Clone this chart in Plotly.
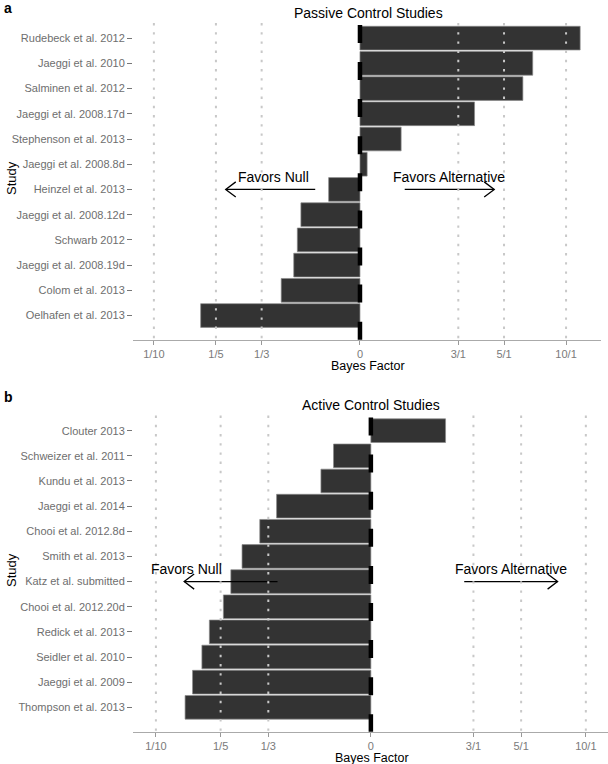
import numpy as np
import plotly.graph_objects as go

# ---- data (natural log of Bayes factor) ----
passive_studies = ["Rudebeck et al. 2012", "Jaeggi et al. 2010", "Salminen et al. 2012",
                   "Jaeggi et al. 2008.17d", "Stephenson et al. 2013", "Jaeggi et al. 2008.8d",
                   "Heinzel et al. 2013", "Jaeggi et al. 2008.12d", "Schwarb 2012",
                   "Jaeggi et al. 2008.19d", "Colom et al. 2013", "Oelhafen et al. 2013"]
passive_logbf = [2.46, 1.93, 1.82, 1.28, 0.46, 0.08, -0.35, -0.66, -0.70, -0.74, -0.88, -1.78]

active_studies = ["Clouter 2013", "Schweizer et al. 2011", "Kundu et al. 2013",
                  "Jaeggi et al. 2014", "Chooi et al. 2012.8d", "Smith et al. 2013",
                  "Katz et al. submitted", "Chooi et al. 2012.20d", "Redick et al. 2013",
                  "Seidler et al. 2010", "Jaeggi et al. 2009", "Thompson et al. 2013"]
active_logbf = [0.80, -0.40, -0.535, -1.01, -1.19, -1.38, -1.50, -1.58, -1.73, -1.81, -1.91, -1.99]

bf_tick_values = [1/10, 1/5, 1/3, 1, 3, 5, 10]
bf_tick_labels = ["1/10", "1/5", "1/3", "0", "3/1", "5/1", "10/1"]
tick_logs = list(np.log(bf_tick_values))

W, H = 608, 764
FONT = "Liberation Sans, Arial, Helvetica, sans-serif"
def px(x): return x / W
def py(y): return 1 - y / H

fig = go.Figure()

panels = [
    dict(studies=passive_studies, vals=passive_logbf, xa="x", ya="y",
         xdom=[px(133), px(601)], xrange=[-2.536, 2.693], ydom=[py(340), py(23)],
         title="Passive Control Studies", title_xy=(368, 13), letter="a", letter_y=8,
         xt_xy=(368, 366), study_y=178,
         null_txt=-0.97, null_arr=(-0.5, -1.5), alt_txt=1.0, alt_arr=(0.5, 1.5),
         arrow_row=6, dxh=0.112),
    dict(studies=active_studies, vals=active_logbf, xa="x2", ya="y2",
         xdom=[px(133), 1.0], xrange=[-2.548, 2.54], ydom=[py(731.7), py(415.6)],
         title="Active Control Studies", title_xy=(371, 405), letter="b", letter_y=397,
         xt_xy=(372, 757.5), study_y=570,
         null_txt=-1.97, null_arr=(-1.0, -2.0), alt_txt=1.5, alt_arr=(1.0, 2.0),
         arrow_row=6, dxh=0.107),
]

shapes = []
annotations = []
for k, p in enumerate(panels):
    n = len(p["studies"])
    idx = list(range(n))
    fig.add_trace(go.Bar(
        x=p["vals"], y=idx, orientation="h", width=0.94,
        marker=dict(color="#333333", line=dict(color="#8a8a8a", width=0.7)),
        xaxis=p["xa"], yaxis=p["ya"], showlegend=False, hoverinfo="skip"))

    # dotted reference lines above the bars
    for t in tick_logs:
        if abs(t) < 1e-9:
            continue
        shapes.append(dict(type="line", xref=p["xa"], yref=f"{p['ya']} domain",
                           x0=t, x1=t, y0=1, y1=0, layer="above",
                           line=dict(color="#c8c8c8", width=2.0, dash="2.4px,6.8px")))
    # dashed thick line at BF = 1
    shapes.append(dict(type="line", xref=p["xa"], yref=f"{p['ya']} domain",
                       x0=0, x1=0, y0=0.994, y1=0, layer="above",
                       line=dict(color="black", width=4.5, dash="18px,19.1px")))

    # arrows
    r = p["arrow_row"]
    dy = 0.3
    for (a0, a1) in (p["null_arr"], p["alt_arr"]):
        sgn = 1 if a1 > a0 else -1
        hx = a1 - sgn * p["dxh"]
        fig.add_trace(go.Scatter(
            x=[a0, a1, None, hx, a1, hx], y=[r, r, None, r - dy, r, r + dy],
            mode="lines", line=dict(color="black", width=1.3),
            xaxis=p["xa"], yaxis=p["ya"], showlegend=False, hoverinfo="skip"))
    for txt, xv in (("Favors Null", p["null_txt"]), ("Favors Alternative", p["alt_txt"])):
        annotations.append(dict(text=txt, x=xv, y=r - 0.5, xref=p["xa"], yref=p["ya"],
                                showarrow=False, xanchor="center", yanchor="middle",
                                font=dict(family=FONT, size=14, color="black")))

    # titles & labels
    annotations.append(dict(text=p["title"], x=px(p["title_xy"][0]), y=py(p["title_xy"][1]),
                            xref="paper", yref="paper", showarrow=False,
                            xanchor="center", yanchor="middle",
                            font=dict(family=FONT, size=14, color="black")))
    annotations.append(dict(text=f"<b>{p['letter']}</b>", x=px(2), y=py(p["letter_y"]),
                            xref="paper", yref="paper", showarrow=False,
                            xanchor="left", yanchor="middle",
                            font=dict(family=FONT, size=14, color="black")))
    annotations.append(dict(text="Bayes Factor", x=px(p["xt_xy"][0]), y=py(p["xt_xy"][1]),
                            xref="paper", yref="paper", showarrow=False,
                            xanchor="center", yanchor="middle",
                            font=dict(family=FONT, size=12.5, color="black")))
    annotations.append(dict(text="Study", x=px(11), y=py(p["study_y"]),
                            xref="paper", yref="paper", showarrow=False, textangle=-90,
                            xanchor="center", yanchor="middle",
                            font=dict(family=FONT, size=13, color="black")))

    xkey = "xaxis" if k == 0 else "xaxis2"
    ykey = "yaxis" if k == 0 else "yaxis2"
    fig.update_layout(**{
        xkey: dict(domain=p["xdom"], range=p["xrange"], anchor=p["ya"],
                   tickvals=tick_logs, ticktext=bf_tick_labels,
                   showgrid=False, zeroline=False, showline=True,
                   linecolor="#aaaaaa", linewidth=1.2,
                   ticks="outside", ticklen=4, tickcolor="#999999", tickwidth=1,
                   tickfont=dict(family=FONT, size=11, color="#7a7a7a")),
        ykey: dict(domain=p["ydom"], range=[11.97, -0.6], anchor=p["xa"],
                   tickvals=idx, ticktext=p["studies"],
                   showgrid=False, zeroline=False, showline=False,
                   ticks="outside", ticklen=5, tickcolor="#777777", tickwidth=1,
                   tickfont=dict(family=FONT, size=11, color="#6e6e6e")),
    })

fig.update_layout(
    width=W, height=H,
    margin=dict(l=0, r=0, t=0, b=0),
    paper_bgcolor="white", plot_bgcolor="white",
    shapes=shapes, annotations=annotations,
    bargap=0, showlegend=False,
)

fig.write_html("out.html", config={"displayModeBar": False, "staticPlot": True},
               post_script="document.body.style.margin='0';document.body.style.overflow='hidden';")
